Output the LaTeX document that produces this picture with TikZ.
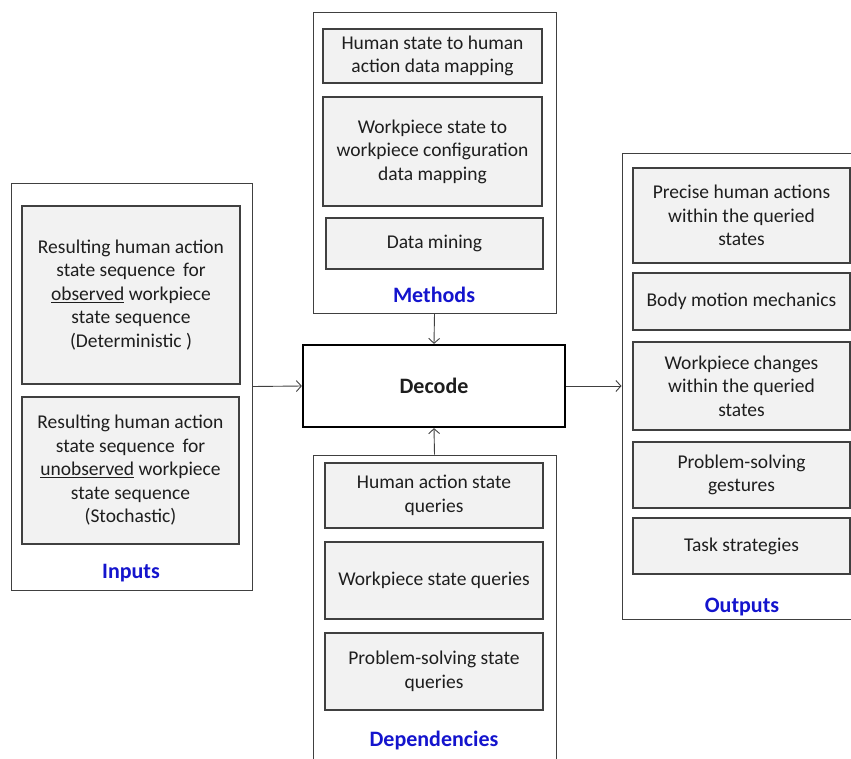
\documentclass[tikz,border=0pt]{standalone}
\usepackage{fontspec}
\setmainfont{Carlito}
\usetikzlibrary{arrows.meta}
\definecolor{boxfill}{RGB}{242,242,242}
\definecolor{lineclr}{RGB}{64,64,64}
\definecolor{textclr}{RGB}{30,30,30}
\definecolor{labelblue}{RGB}{20,20,205}
\begin{document}
\begin{tikzpicture}[x=1pt,y=-1pt,
  panel/.style={draw=lineclr, line width=1pt, inner sep=0pt},
  item/.style={draw=lineclr, fill=boxfill, line width=1.2pt, align=center, text=textclr,
    font=\fontsize{19.5}{23.5}\selectfont, inner sep=0pt},
  caption/.style={text=labelblue, font=\fontsize{22}{26}\selectfont\bfseries, inner sep=0pt},
  link/.style={draw=lineclr, line width=0.9pt, -{Straight Barb[length=5pt,width=11pt]}},
]
\clip (0,0) rectangle (851,758);

% Inputs panel
\node[panel, minimum width=241, minimum height=407] (inputs) at (131.5,386.5) {};
\node[item, minimum width=218, minimum height=178] (in1) at (131,295)
  {Resulting human action\\ state sequence\, for\\ \underline{observed} workpiece\\ state sequence\\ (Deterministic )};
\node[item, minimum width=217, minimum height=147] (in2) at (130.5,470.5)
  {Resulting human action\\ state sequence\, for\\ \underline{unobserved} workpiece\\ state sequence\\ (Stochastic)};
\node[caption] (inlabel) at (131,573) {Inputs};

% Methods panel
\node[panel, minimum width=243, minimum height=301] (methods) at (434.5,162.5) {};
\node[item, minimum width=219, minimum height=54] (m1) at (432.5,56)
  {Human state to human\\ action data mapping};
\node[item, minimum width=219, minimum height=109] (m2) at (432.5,151.5)
  {Workpiece state to\\ workpiece configuration\\ data mapping};
\node[item, minimum width=217, minimum height=51] (m3) at (434.5,243.5)
  {Data mining};
\node[caption] (mlabel) at (434,295) {Methods};

% Central decoding step
\node[draw=black, line width=2.2pt, minimum width=262, minimum height=82, text=textclr,
  font=\fontsize{22}{26}\selectfont\bfseries] (decode) at (434,386) {Decode};

% Dependencies panel
\node[panel, minimum width=243, minimum height=320] (deps) at (434.5,615) {};
\node[item, minimum width=218, minimum height=65] (d1) at (434,495.5)
  {Human action state\\ queries};
\node[item, minimum width=218, minimum height=77] (d2) at (434,580.5)
  {Workpiece state queries};
\node[item, minimum width=218, minimum height=77] (d3) at (434,671.5)
  {Problem-solving state\\ queries};
\node[caption] (dlabel) at (434,740) {Dependencies};

% Outputs panel
\node[panel, minimum width=238, minimum height=466] (outputs) at (741,386) {};
\node[item, minimum width=217, minimum height=95] (o1) at (741.5,215.5)
  {Precise human actions\\ within the queried\\ states};
\node[item, minimum width=217, minimum height=57] (o2) at (741.5,301.5)
  {Body motion mechanics};
\node[item, minimum width=217, minimum height=88] (o3) at (741.5,386)
  {Workpiece changes\\ within the queried\\ states};
\node[item, minimum width=217, minimum height=66] (o4) at (741.5,475)
  {Problem-solving\\ gestures};
\node[item, minimum width=217, minimum height=56] (o5) at (741.5,546)
  {Task strategies};
\node[caption] (olabel) at (742,607) {Outputs};

% Connectors into and out of the decoding step
\draw[link] (inputs.east) -- (decode.west);
\draw[link] (methods.south) -- (decode.north);
\draw[link] (deps.north) -- (decode.south);
\draw[link] (decode.east) -- (outputs.west);
\end{tikzpicture}
\end{document}
